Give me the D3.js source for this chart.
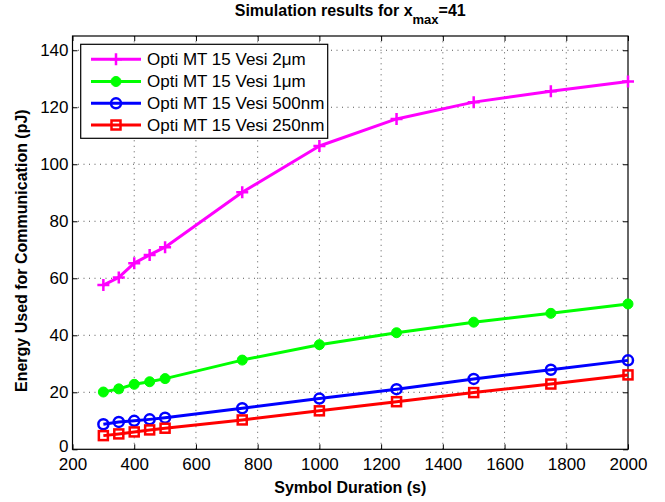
<!DOCTYPE html>
<html>
<head>
<meta charset="utf-8">
<script src="https://cdn.jsdelivr.net/npm/d3@7/dist/d3.min.js"></script>
<style>
  html, body { margin: 0; padding: 0; background: #fff; }
  svg { display: block; font-family: "Liberation Sans", Arial, Helvetica, sans-serif; }
</style>
</head>
<body>
<svg id="chart" width="665" height="502"></svg>
<script>
// Symbol durations (s)
const durations = [300, 350, 400, 450, 500, 750, 1000, 1250, 1500, 1750, 2000];

// Energy used for communication (pJ), one array per vesicle size
const vesi2um   = [57.6, 60.3, 65.3, 68.2, 70.9, 90.2, 106.4, 115.9, 121.8, 125.6, 129.0];
const vesi1um   = [20.1, 21.2, 22.8, 23.7, 24.8, 31.3, 36.7, 40.9, 44.6, 47.7, 51.0];
const vesi500nm = [8.8, 9.6, 10.0, 10.5, 11.1, 14.4, 17.8, 21.1, 24.7, 27.9, 31.2];
const vesi250nm = [4.8, 5.4, 6.1, 6.8, 7.4, 10.3, 13.5, 16.7, 19.9, 22.9, 26.1];

const seriesNames = ["Opti MT 15 Vesi 2\u03BCm", "Opti MT 15 Vesi 1\u03BCm", "Opti MT 15 Vesi 500nm", "Opti MT 15 Vesi 250nm"];
const xTicks = [200, 400, 600, 800, 1000, 1200, 1400, 1600, 1800, 2000];
const yTicks = [0, 20, 40, 60, 80, 100, 120, 140];

const series = [
  { name: seriesNames[0], values: vesi2um,   color: "#ff00ff", marker: "plus" },
  { name: seriesNames[1], values: vesi1um,   color: "#00ff00", marker: "dot" },
  { name: seriesNames[2], values: vesi500nm, color: "#0000ff", marker: "circle" },
  { name: seriesNames[3], values: vesi250nm, color: "#ff0000", marker: "square" }
];

const svg = d3.select("#chart");
const box = { left: 72.5, right: 628, top: 36, bottom: 449.3 };

const x = d3.scaleLinear().domain([200, 2000]).range([box.left, box.right]);
const y = d3.scaleLinear().domain([0, 145]).range([box.bottom, box.top]);

// dotted grid
const grid = svg.append("g").attr("stroke", "#555").attr("stroke-width", 1)
  .attr("stroke-dasharray", "1,4.5");
xTicks.slice(1, -1).forEach(t => {
  grid.append("line").attr("x1", x(t)).attr("x2", x(t))
    .attr("y1", box.bottom).attr("y2", box.top);
});
yTicks.slice(1).forEach(t => {
  grid.append("line").attr("y1", y(t)).attr("y2", y(t))
    .attr("x1", box.left).attr("x2", box.right);
});

// axes with inward ticks on all four sides
const tickLen = 5;
const fontSize = 17;
const fmt = d3.format("d");
const xAxisB = d3.axisBottom(x).tickValues(xTicks).tickFormat(fmt).tickSizeInner(-tickLen).tickSizeOuter(0).tickPadding(9);
const xAxisT = d3.axisTop(x).tickValues(xTicks).tickSizeInner(-tickLen).tickSizeOuter(0).tickFormat("");
const yAxisL = d3.axisLeft(y).tickValues(yTicks).tickFormat(fmt).tickSizeInner(-tickLen).tickSizeOuter(0).tickPadding(4);
const yAxisR = d3.axisRight(y).tickValues(yTicks).tickSizeInner(-tickLen).tickSizeOuter(0).tickFormat("");

function styleAxis(g) {
  g.select(".domain").remove();
  g.selectAll(".tick line").attr("stroke", "#000").attr("stroke-width", 1);
  g.selectAll(".tick text").attr("fill", "#000").attr("font-size", fontSize)
    .attr("font-family", "'Liberation Sans', Arial, sans-serif");
}
svg.append("g").attr("transform", `translate(0,${box.bottom})`).call(xAxisB).call(styleAxis);
svg.append("g").attr("transform", `translate(0,${box.top})`).call(xAxisT).call(styleAxis);
const yLeft = svg.append("g").attr("transform", `translate(${box.left},0)`).call(yAxisL).call(styleAxis);
svg.append("g").attr("transform", `translate(${box.right},0)`).call(yAxisR).call(styleAxis);

// lift the corner "0" so it clears the first x label
yLeft.selectAll(".tick").filter(d => d === 0).select("text").attr("dy", "0.1em");

// plot box
svg.append("rect").attr("x", box.left).attr("y", box.top)
  .attr("width", box.right - box.left).attr("height", box.bottom - box.top)
  .attr("fill", "none").attr("stroke", "#000").attr("stroke-width", 1.2);

// markers
function drawMarker(g, type, cx, cy, color) {
  if (type === "plus") {
    g.append("path").attr("d", `M${cx - 6},${cy}H${cx + 6}M${cx},${cy - 6}V${cy + 6}`)
      .attr("stroke", color).attr("stroke-width", 2.5).attr("fill", "none");
  } else if (type === "dot") {
    g.append("circle").attr("cx", cx).attr("cy", cy).attr("r", 5)
      .attr("fill", color).attr("stroke", color).attr("stroke-width", 1);
  } else if (type === "circle") {
    g.append("circle").attr("cx", cx).attr("cy", cy).attr("r", 5)
      .attr("fill", "none").attr("stroke", color).attr("stroke-width", 2.5);
  } else if (type === "square") {
    g.append("rect").attr("x", cx - 4.5).attr("y", cy - 4.5).attr("width", 9).attr("height", 9)
      .attr("fill", "none").attr("stroke", color).attr("stroke-width", 2.5);
  }
}

const line = d3.line().x(d => x(d[0])).y(d => y(d[1]));
const plot = svg.append("g");
series.forEach(s => {
  const pts = durations.map((d, i) => [d, s.values[i]]);
  plot.append("path").datum(pts).attr("d", line)
    .attr("fill", "none").attr("stroke", s.color).attr("stroke-width", 3)
    .attr("stroke-linejoin", "round");
  pts.forEach(p => drawMarker(plot, s.marker, x(p[0]), y(p[1]), s.color));
});

// legend
const leg = svg.append("g");
leg.append("rect").attr("x", 80.7).attr("y", 44.3).attr("width", 247).attr("height", 94)
  .attr("fill", "#fff").attr("stroke", "#000").attr("stroke-width", 1.2);
const rowY = [59.3, 81.5, 103.3, 125];
series.forEach((s, i) => {
  const yy = rowY[i];
  leg.append("line").attr("x1", 91).attr("x2", 141).attr("y1", yy).attr("y2", yy)
    .attr("stroke", s.color).attr("stroke-width", 3);
  drawMarker(leg, s.marker, 116, yy, s.color);
  leg.append("text").attr("x", 147).attr("y", yy).attr("dy", "0.35em")
    .attr("font-size", fontSize).attr("fill", "#000").text(s.name);
});

// title with subscript
const title = svg.append("text").attr("x", (box.left + box.right) / 2).attr("y", 16)
  .attr("text-anchor", "middle").attr("font-weight", "bold").attr("font-size", 16)
  .attr("font-family", "'Liberation Sans', Arial, sans-serif");
title.append("tspan").text("Simulation results for x");
title.append("tspan").attr("dy", 8).attr("font-size", 13).text("max");
title.append("tspan").attr("dy", -8).text("=41");

// axis labels
svg.append("text").attr("x", (box.left + box.right) / 2).attr("y", 493)
  .attr("text-anchor", "middle").attr("font-weight", "bold").attr("font-size", 16)
  .text("Symbol Duration (s)");
svg.append("text").attr("transform", `translate(27,${(box.top + box.bottom) / 2 + 8}) rotate(-90)`)
  .attr("text-anchor", "middle").attr("font-weight", "bold").attr("font-size", 16)
  .text("Energy Used for Communication (pJ)");
</script>
</body>
</html>
